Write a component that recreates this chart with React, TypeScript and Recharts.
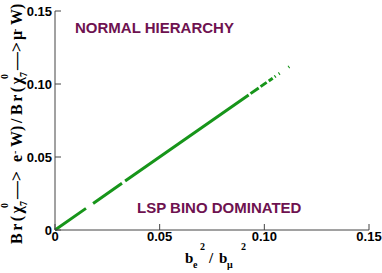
import { LineChart, Line, XAxis, YAxis } from 'recharts';

// b_e^2 / b_mu^2, one entry per segment end (null = gap)
const ratioX = [
  0, 0.0148, 0.0165, 0.0182, 0.032, 0.0328, 0.0335, 0.0925, 0.093, 0.0934, 0.0973, 0.0978,
  0.0982, 0.1011, 0.1016, 0.1021, 0.104, 0.1045, 0.1049, 0.1054, 0.106, 0.1069, 0.1073, 0.109,
  0.1115, 0.1119,
];
const branchingRatio = [
  0, 0.0148, null, 0.0182, 0.032, null, 0.0335, 0.0925, null, 0.0934, 0.0973, null,
  0.0982, 0.1011, null, 0.1021, 0.104, null, 0.1049, 0.1054, null, 0.1069, 0.1073, null,
  0.1115, 0.1119,
];
const axisTicks = [0, 0.05, 0.1, 0.15];
const xTickLabels = ['0', '0.05', '0.10', '0.15'];
const yTickLabels = ['0', '0.05', '0.10', '0.15'];
const innerTicks = [0.05, 0.1];

const chartData = ratioX.map((x, i) => ({ x, y: branchingRatio[i] }));

const FRAME = '#444';
const LABEL = '#6e1250';
const SANS = '"Liberation Sans", Arial, Helvetica, sans-serif';
const SERIF = '"Liberation Serif", "Times New Roman", serif';

const tickStyle = { fontFamily: SANS, fontWeight: 'bold', fontSize: 13, fill: '#000' };

// one half of the y title; t = distance along the text, w = gap before the lepton
const BrPart = ({ t, lepton, w }: { t: number; lepton: string; w: number }) => (
  <>
    <tspan x={t} y={0} letterSpacing={2.5}>Br(χ</tspan>
    <tspan x={t + 36} y={-14} fontSize={10}>0</tspan>
    <tspan x={t + 38} y={5} fontSize={10}>7</tspan>
    <tspan x={t + 45} y={0} textLength={28} lengthAdjust="spacingAndGlyphs">—&gt;</tspan>
    <tspan x={t + w} y={0}>{lepton}</tspan>
    <tspan x={t + w + 8} y={-4} fontSize={10}>-</tspan>
    <tspan x={t + w + 15} y={0}>W)</tspan>
  </>
);

export default function App() {
  return (
    <div style={{ position: 'absolute', left: 0, top: 0 }}>
      <LineChart width={382} height={273} data={chartData} margin={{ top: 11, right: 13, bottom: 0, left: 0 }}>
        <XAxis
          dataKey="x"
          type="number"
          domain={[0, 0.15]}
          ticks={axisTicks}
          tickFormatter={(v: number) => xTickLabels[axisTicks.indexOf(v)]}
          tick={tickStyle}
          stroke={FRAME}
          tickSize={-6}
          tickMargin={8}
          height={43}
          interval={0}
        />
        <XAxis
          xAxisId="top"
          orientation="top"
          dataKey="x"
          type="number"
          domain={[0, 0.15]}
          ticks={innerTicks}
          tick={false}
          stroke={FRAME}
          tickSize={-6}
          height={0}
        />
        <YAxis
          type="number"
          domain={[0, 0.15]}
          ticks={axisTicks}
          tickFormatter={(v: number) => yTickLabels[axisTicks.indexOf(v)]}
          tick={tickStyle}
          stroke={FRAME}
          tickSize={-6}
          tickMargin={9}
          width={55}
          interval={0}
        />
        <YAxis
          yAxisId="right"
          orientation="right"
          type="number"
          domain={[0, 0.15]}
          ticks={innerTicks}
          tick={false}
          stroke={FRAME}
          tickSize={-6}
          width={0}
        />
        <Line
          dataKey="y"
          stroke="#17951a"
          strokeWidth={3}
          dot={false}
          connectNulls={false}
          isAnimationActive={false}
        />
        <text x={75} y={33} fontFamily={SANS} fontWeight="bold" fontSize={15} fill={LABEL}>
          NORMAL HIERARCHY
        </text>
        <text x={137} y={213} fontFamily={SANS} fontWeight="bold" fontSize={15} fill={LABEL}>
          LSP BINO DOMINATED
        </text>
        <text fontFamily={SERIF} fontWeight="bold" fontSize={15} fill="#000">
          <tspan x={185} y={263}>b</tspan>
          <tspan x={193} y={268} fontSize={10}>e</tspan>
          <tspan x={200} y={250} fontSize={10}>2</tspan>
          <tspan x={209} y={263}>/</tspan>
          <tspan x={219} y={263}>b</tspan>
          <tspan x={227} y={268} fontSize={10}>μ</tspan>
          <tspan x={241} y={250} fontSize={10}>2</tspan>
        </text>
        <text transform="translate(22,245) rotate(-90)" fontFamily={SERIF} fontWeight="bold" fontSize={16} fill="#000">
          <BrPart t={1} lepton="e" w={82} />
          <tspan x={122} y={0}>/</tspan>
          <BrPart t={130} lepton="μ" w={75} />
        </text>
      </LineChart>
    </div>
  );
}
